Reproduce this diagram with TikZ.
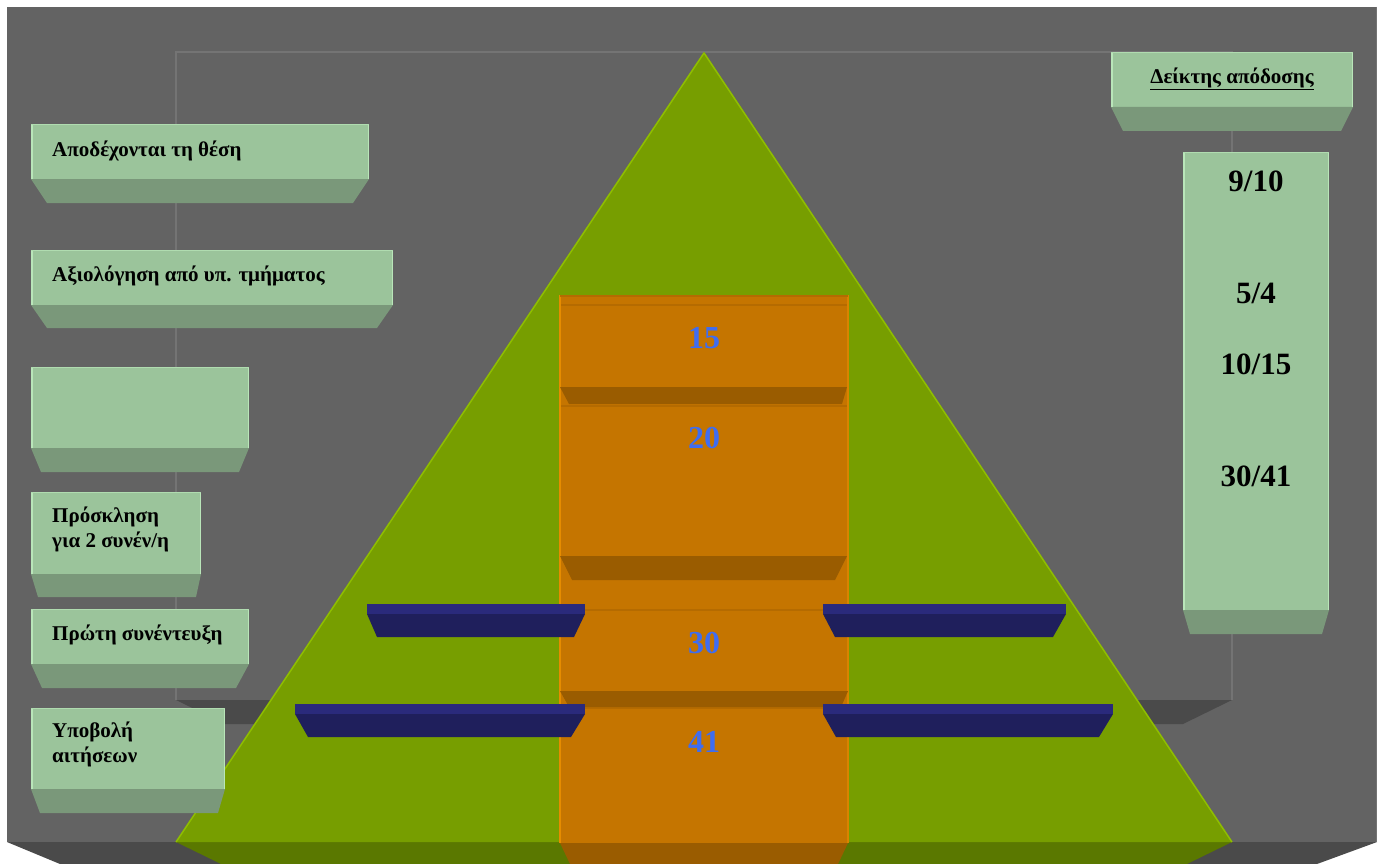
\documentclass[tikz,border=0pt]{standalone}
\usepackage{fontspec}
\setmainfont{Liberation Serif}
\begin{document}
\definecolor{panel}{HTML}{636363}
\definecolor{panelshade}{HTML}{4A4A4A}
\definecolor{wallline}{HTML}{747474}
\definecolor{pyr}{HTML}{779E00}
\definecolor{pyredge}{HTML}{8FBE00}
\definecolor{pyrbase}{HTML}{5A7800}
\definecolor{orng}{HTML}{C57500}
\definecolor{orngedge}{HTML}{E68C00}
\definecolor{orngline}{HTML}{B56B00}
\definecolor{orngbev}{HTML}{9A5C00}
\definecolor{numblue}{HTML}{3F6DF0}
\definecolor{navy}{HTML}{1F1F5C}
\definecolor{navytop}{HTML}{2A2A7C}
\definecolor{gface}{HTML}{9BC49B}
\definecolor{gbev}{HTML}{7A987A}
\definecolor{gedge}{HTML}{B9E6B9}
% light green box with a bevelled lower face
\newcommand{\gslab}[7]{%
  \fill[gface] (#1,#2) rectangle (#3,#4);
  \fill[gbev] (#1,#4) -- (#3,#4) -- (#3-#7,#5) -- (#1+#6,#5) -- cycle;
  \draw[gedge, line width=1.5pt] (#1+0.75,#2) -- (#1+0.75,#4);
  \draw[gedge, line width=0.8pt] (#3-0.4,#2) -- (#3-0.4,#4);
  \draw[gedge!70!gface, line width=0.8pt] (#1,#2+0.4) -- (#3,#2+0.4);
}
% navy shelf: thin top strip plus slanted front
\newcommand{\navybar}[6]{%
  \fill[navytop] (#1,#2) rectangle (#3,#2+10);
  \fill[navy] (#1,#2+10) -- (#3,#2+10) -- (#3-#6,#4) -- (#1+#5,#4) -- cycle;
}
% darker bevel band across the orange column
\newcommand{\obevel}[6]{%
  \fill[orngbev] (#1,#3) -- (#2,#3) -- (#2-#6,#4) -- (#1+#5,#4) -- cycle;
}
\begin{tikzpicture}[x=1pt,y=-1pt,
  lbl/.style={anchor=west, inner sep=0pt, align=left, font=\fontsize{21}{25}\selectfont\bfseries},
  num/.style={inner sep=0pt, text=numblue, font=\fontsize{32}{32}\selectfont\bfseries},
  val/.style={inner sep=0pt, text=black, font=\fontsize{31}{31}\selectfont\bfseries}]
\useasboundingbox (0,0) rectangle (1383,864);
\fill[white] (0,0) rectangle (1383,864);
% outer panel and its lower bevel
\fill[panel] (7,7) rectangle (1377,842);
\fill[panelshade] (7,842) -- (1377,842) -- (1317,864) -- (60,864) -- cycle;
\draw[wallline, line width=1pt] (1376.5,7) -- (1376.5,842);
% back wall and floor
\fill[panelshade] (176,700) -- (1232,700) -- (1183,724) -- (225,724) -- cycle;
\draw[wallline, line width=1.2pt] (176,700) -- (176,52) -- (1232,52) -- (1232,700);
% pyramid
\fill[pyrbase] (176,842) -- (1232,842) -- (1187,864) -- (221,864) -- cycle;
\fill[pyr] (704,52) -- (1232,842) -- (176,842) -- cycle;
\draw[pyredge, line width=1.5pt, line join=round] (176,842) -- (704,53) -- (1232,842);
% orange column
\fill[orng] (559,295) rectangle (849,843);
\draw[orngedge, line width=1.5pt] (560,295) -- (560,843);
\draw[orngedge!60!orng, line width=1.2pt] (848,295) -- (848,843);
\draw[orngline, line width=1.2pt] (560,296) -- (848,296);
\foreach \yy in {305,406,610,708} \draw[orngline, line width=1.5pt] (561,\yy) -- (847,\yy);
\obevel{560}{847}{387}{404}{9}{5}
\obevel{560}{847}{556}{580}{12}{12}
\obevel{560}{848}{691}{707}{9}{7}
\obevel{560}{848}{843}{864}{10}{10}
\node[num] (n15) at (704,338) {15};
\node[num] (n20) at (704,438) {20};
\node[num] (n30) at (704,643) {30};
\node[num] (n41) at (704,742) {41};
% navy shelves
\navybar{367}{604}{585}{637}{10}{11}
\navybar{295}{704}{585}{737}{13}{14}
\navybar{823}{604}{1066}{637}{12}{13}
\navybar{823}{704}{1113}{737}{13}{14}
% stage boxes on the left
\gslab{31}{124}{369}{179}{203}{16}{16}
\gslab{31}{250}{393}{305}{328}{16}{16}
\gslab{31}{367}{249}{448}{472}{10}{10}
\gslab{31}{492}{201}{574}{597}{7}{5}
\gslab{31}{609}{249}{664}{688}{11}{13}
\gslab{31}{708}{225}{789}{813}{9}{7}
\node[lbl] (accept) at (52,151) {Αποδέχονται τη θέση};
\node[lbl] (eval) at (52,276) {Αξιολόγηση από υπ. τμήματος};
\node[lbl] (invite) at (52,529) {Πρόσκληση\\για 2 συνέν/η};
\node[lbl] (first) at (52,635) {Πρώτη συνέντευξη};
\node[lbl] (submit) at (52,744) {Υποβολή\\αιτήσεων};
% performance indicator column
\gslab{1111}{52}{1353}{107}{131}{12}{12}
\gslab{1183}{152}{1329}{610}{634}{7}{7}
\node[inner sep=0pt, font=\fontsize{21}{24}\selectfont\bfseries] (head) at (1232,79) {\underline{Δείκτης απόδοσης}};
\node[val] (v1) at (1256,181) {9/10};
\node[val] (v2) at (1256,293) {5/4};
\node[val] (v3) at (1256,364) {10/15};
\node[val] (v4) at (1256,476) {30/41};
\end{tikzpicture}
\end{document}
